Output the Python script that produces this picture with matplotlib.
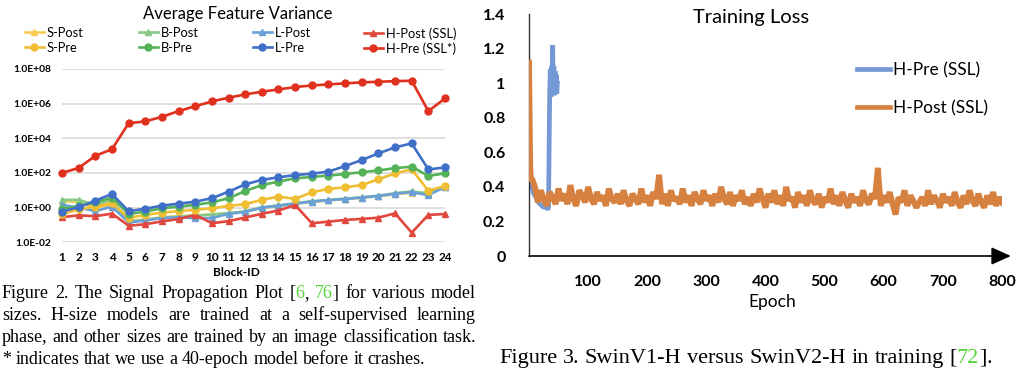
import numpy as np
import matplotlib
matplotlib.use('Agg')
import matplotlib.pyplot as plt
from matplotlib.lines import Line2D
from matplotlib.ticker import FixedLocator

W, H = 1026, 370
plt.rcParams['font.family'] = ['Lato', 'DejaVu Sans']

# ---------- data: left panel (average feature variance per block) ----------
block_ids = list(range(1, 25))
s_post = [2.45, 2.1, 1.0, 1.45, 0.17, 0.21, 0.28, 0.32, 0.35, 0.40, 0.48, 0.60,
          0.95, 1.26, 1.66, 2.14, 2.63, 3.1, 3.7, 4.6, 6.0, 7.2, 5.9, 16.2]
b_post = [2.8, 2.8, 1.45, 2.8, 0.155, 0.20, 0.26, 0.30, 0.35, 0.40, 0.48, 0.60,
          1.05, 1.35, 1.78, 2.35, 2.75, 3.3, 4.0, 4.9, 6.8, 8.7, 6.6, 16.6]
l_post = [1.45, 1.0, 0.63, 1.15, 0.14, 0.18, 0.25, 0.28, 0.245, 0.25, 0.44, 0.56,
          1.0, 1.29, 1.7, 2.24, 2.7, 3.16, 3.8, 4.7, 6.3, 7.9, 5.2, 15.8]
h_post = [0.28, 0.36, 0.32, 0.45, 0.091, 0.11, 0.16, 0.22, 0.38, 0.126, 0.166, 0.27,
          0.44, 0.68, 1.41, 0.126, 0.155, 0.195, 0.224, 0.263, 0.47, 0.036, 0.38, 0.43]
s_pre = [0.42, 0.79, 1.15, 1.8, 0.26, 0.38, 0.52, 0.63, 0.74, 0.91, 1.26, 1.6,
         2.8, 4.3, 3.2, 7.6, 12, 15, 20, 43, 95, 160, 9.5, 18]
b_pre = [0.81, 1.25, 2.0, 3.8, 0.43, 0.59, 0.91, 1.15, 1.45, 2.0, 3.5, 9.1,
         20, 32, 49, 59, 71, 87, 110, 140, 190, 230, 68, 95]
l_pre = [0.59, 1.05, 2.5, 6.2, 0.62, 0.87, 1.3, 1.7, 2.2, 3.5, 8.3, 22,
         40, 56, 76, 91, 120, 250, 560, 1350, 3000, 5100, 160, 210]
h_pre = [100, 195, 980, 2340, 7.4e4, 9.5e4, 1.74e5, 3.7e5, 7.1e5, 1.35e6, 2.2e6, 3.4e6,
         4.9e6, 6.6e6, 9.1e6, 1.12e7, 1.29e7, 1.48e7, 1.7e7, 1.82e7, 2.0e7, 2.1e7, 3.7e5, 2.0e6]
var_ticks = [1e-2, 1e0, 1e2, 1e4, 1e6, 1e8]
var_ticklabels = ['1.0E-02', '1.0E+00', '1.0E+02', '1.0E+04', '1.0E+06', '1.0E+08']

# ---------- data: right panel (training loss) ----------
pre_epochs = [0, 1, 2, 3, 5, 8, 10, 13, 16, 19, 22, 25, 28, 31, 33, 35, 36, 37, 38,
              39, 40, 41, 42, 43, 44, 45, 46, 47, 48]
pre_loss = [1.1, 0.72, 0.5, 0.43, 0.40, 0.36, 0.35, 0.33, 0.31, 0.30, 0.29, 0.28, 0.29,
            0.27, 0.28, 0.95, 1.08, 0.92, 1.1, 1.0, 1.22, 0.98, 1.1, 0.93, 1.07, 0.95,
            1.05, 0.94, 1.0]
post_epochs = [0, 1, 2, 3, 4, 5] + list(range(10, 805, 5))
post_loss = [1.12, 0.8, 0.52, 0.46, 0.43, 0.45,
             0.40, 0.31, 0.38, 0.33, 0.29, 0.37, 0.34, 0.30, 0.39, 0.32,
             0.36, 0.30, 0.41, 0.33, 0.29, 0.38, 0.35, 0.31, 0.40, 0.33,
             0.30, 0.37, 0.32, 0.35, 0.29, 0.39, 0.33, 0.31, 0.36, 0.30,
             0.38, 0.32, 0.29, 0.36, 0.33, 0.30, 0.39, 0.31, 0.35, 0.29,
             0.37, 0.33, 0.47, 0.30, 0.36, 0.29, 0.38, 0.32, 0.34, 0.30,
             0.39, 0.31, 0.35, 0.29, 0.37, 0.33, 0.30, 0.38, 0.32, 0.35,
             0.29, 0.36, 0.31, 0.40, 0.33, 0.30, 0.37, 0.29, 0.35, 0.32,
             0.38, 0.30, 0.34, 0.29, 0.36, 0.31, 0.39, 0.33, 0.28, 0.36,
             0.31, 0.38, 0.30, 0.35, 0.29, 0.40, 0.32, 0.34, 0.28, 0.37,
             0.31, 0.35, 0.29, 0.38, 0.32, 0.30, 0.36, 0.28, 0.34, 0.31,
             0.39, 0.30, 0.35, 0.29, 0.37, 0.32, 0.28, 0.36, 0.31, 0.34,
             0.29, 0.38, 0.32, 0.30, 0.36, 0.33, 0.51, 0.29, 0.35, 0.31,
             0.37, 0.30, 0.24, 0.34, 0.31, 0.38, 0.29, 0.35, 0.32, 0.28,
             0.31, 0.34, 0.29, 0.38, 0.30, 0.35, 0.32, 0.28, 0.36, 0.31,
             0.34, 0.29, 0.37, 0.31, 0.28, 0.35, 0.30, 0.38, 0.32, 0.29,
             0.36, 0.31, 0.28, 0.35, 0.30, 0.37, 0.29, 0.34, 0.31]
loss_ticks = [0, 0.2, 0.4, 0.6, 0.8, 1.0, 1.2, 1.4]
loss_ticklabels = ['0', '0.2', '0.4', '0.6', '0.8', '1', '1.2', '1.4']
epoch_ticks = [100, 200, 300, 400, 500, 600, 700, 800]

GREEN_REF = '#56D43A'


def fx(x):
    return x / W


def fy(y):
    return 1 - y / H


fig = plt.figure(figsize=(W / 100, H / 100), dpi=100)

# ---------------- left panel ----------------
ax = fig.add_axes([fx(62), fy(242.3), fx(445) - fx(62), fy(69) - fy(242.3)])
ax.set_yscale('log')
series = [
    ('S-Post', s_post, '#F6CB52', '^'),
    ('B-Post', b_post, '#86C987', '^'),
    ('L-Post', l_post, '#6A9FD8', '^'),
    ('H-Post (SSL)', h_post, '#E2473D', '^'),
    ('S-Pre', s_pre, '#F0BE32', 'o'),
    ('B-Pre', b_pre, '#55B257', 'o'),
    ('L-Pre', l_pre, '#3F6FC6', 'o'),
    ('H-Pre (SSL*)', h_pre, '#E0301E', 'o'),
]
handles = {}
for name, vals, col, mk in series:
    ax.plot(block_ids, vals, color=col, lw=1.9, marker=mk, ms=5,
            clip_on=False, zorder=3)
    handles[name] = Line2D([], [], color=col, lw=1.9, marker=mk, ms=5)

ax.set_xlim(1, 24)
ax.set_ylim(1e-2, 1e8)
ax.yaxis.set_major_locator(FixedLocator(var_ticks))
ax.yaxis.set_minor_locator(FixedLocator([]))
ax.set_yticklabels(var_ticklabels)
ax.set_xticks(block_ids)
ax.tick_params(axis='y', length=0, pad=8, labelsize=7.4)
ax.tick_params(axis='x', length=0, pad=7, labelsize=8.5)
for lab in ax.get_xticklabels() + ax.get_yticklabels():
    lab.set_fontweight('bold')
ax.grid(axis='y', color='#D9D9D9', lw=1.2)
for sp in ax.spines.values():
    sp.set_visible(False)

fig.text(fx(238), fy(14), 'Average Feature Variance', ha='center', va='center', fontsize=12)
fig.text(fx(236), fy(272), 'Block-ID', ha='center', va='center', fontsize=8.6, fontweight='bold')

col_x = [25, 139, 253, 364]
col_pairs = [('S-Post', 'S-Pre'), ('B-Post', 'B-Pre'), ('L-Post', 'L-Pre'),
             ('H-Post (SSL)', 'H-Pre (SSL*)')]
for cx, (top, bot) in zip(col_x, col_pairs):
    fig.legend([handles[top], handles[bot]], [top, bot], loc='upper left',
               bbox_to_anchor=(fx(cx), fy(27)), frameon=False, fontsize=9.3,
               handlelength=1.45, handletextpad=0.25, labelspacing=0.2,
               borderpad=0, borderaxespad=0)

# ---------------- right panel ----------------
ax2 = fig.add_axes([fx(529), fy(256), fx(1002) - fx(529), fy(14) - fy(256)])
ax2.plot(pre_epochs, pre_loss, color='#7499D4', lw=3.4, solid_joinstyle='bevel',
         label='H-Pre (SSL)', zorder=2)
ax2.plot(post_epochs, post_loss, color='#D6813F', lw=4.2, solid_joinstyle='bevel',
         label='H-Post (SSL)', zorder=3)
ax2.set_xlim(0, 800)
ax2.set_ylim(0, 1.4)
ax2.set_yticks(loss_ticks)
ax2.set_yticklabels(loss_ticklabels)
ax2.set_xticks(epoch_ticks)
ax2.tick_params(axis='y', length=0, pad=17, labelsize=11.5)
ax2.tick_params(axis='x', length=0, pad=14, labelsize=11.5)
for lab in ax2.get_xticklabels() + ax2.get_yticklabels():
    lab.set_fontweight('bold')
for side in ['top', 'right', 'bottom']:
    ax2.spines[side].set_visible(False)
ax2.spines['left'].set_color('#333333')
ax2.spines['left'].set_linewidth(1.0)
ax2.annotate('', xy=(815, 0), xytext=(0, 0), xycoords='data', annotation_clip=False,
             arrowprops=dict(arrowstyle='-|>,head_length=1.0,head_width=0.45',
                             mutation_scale=12, color='black', lw=1.2,
                             shrinkA=0, shrinkB=0))
leg = ax2.legend(loc='upper left', bbox_to_anchor=(fx(857), fy(62)),
                 bbox_transform=fig.transFigure, frameon=False, fontsize=12.5,
                 handlelength=1.9, handletextpad=0.17, labelspacing=1.26,
                 borderpad=0, borderaxespad=0)
for lh in leg.get_lines():
    lh.set_linewidth(3.4)
fig.text(fx(751), fy(18), 'Training Loss', ha='center', va='center', fontsize=14.5)
fig.text(fx(772), fy(302), 'Epoch', ha='center', va='center', fontsize=12.5)

# ---------------- captions ----------------
renderer = fig.canvas.get_renderer()
SERIF = ['Liberation Serif', 'DejaVu Serif']


def place_words(words, x0, y, size, x1=None):
    measured = []
    for word in words:
        pieces = []
        total = 0.0
        for txt, col in word:
            t = fig.text(0, 0, txt, fontsize=size, family=SERIF, color=col,
                         va='baseline', ha='left')
            w = t.get_window_extent(renderer).width
            pieces.append((t, w))
            total += w
        measured.append((pieces, total))
    if x1 is None:
        a = fig.text(0, 0, 'x x', fontsize=size, family=SERIF)
        b = fig.text(0, 0, 'xx', fontsize=size, family=SERIF)
        gap = a.get_window_extent(renderer).width - b.get_window_extent(renderer).width
        a.remove()
        b.remove()
    else:
        gap = (x1 - x0 - sum(m[1] for m in measured)) / (len(measured) - 1)
    x = x0
    for pieces, total in measured:
        for t, w in pieces:
            t.set_position((fx(x), fy(y)))
            x += w
        x += gap


def plain(s):
    return [[(w, 'black')] for w in s.split()]


CAP = 13.0
line1 = plain('Figure 2. The Signal Propagation Plot') + \
    [[('[', 'black'), ('6', GREEN_REF), (',', 'black')], [('76', GREEN_REF), (']', 'black')]] + \
    plain('for various model')
place_words(line1, 2, 298, CAP, 476)
place_words(plain('sizes.  H-size models are trained at a self-supervised learning'), 2, 320, CAP, 476)
place_words(plain('phase, and other sizes are trained by an image classification task.'), 2, 342, CAP, 476)
place_words(plain('* indicates that we use a 40-epoch model before it crashes.'), 2, 364, CAP)

cap3 = plain('Figure 3. SwinV1-H versus SwinV2-H in training') + \
    [[('[', 'black'), ('72', GREEN_REF), (']', 'black'), ('.', 'black')]]
place_words(cap3, 499, 363, 16)

fig.savefig('out.png', dpi=100)
